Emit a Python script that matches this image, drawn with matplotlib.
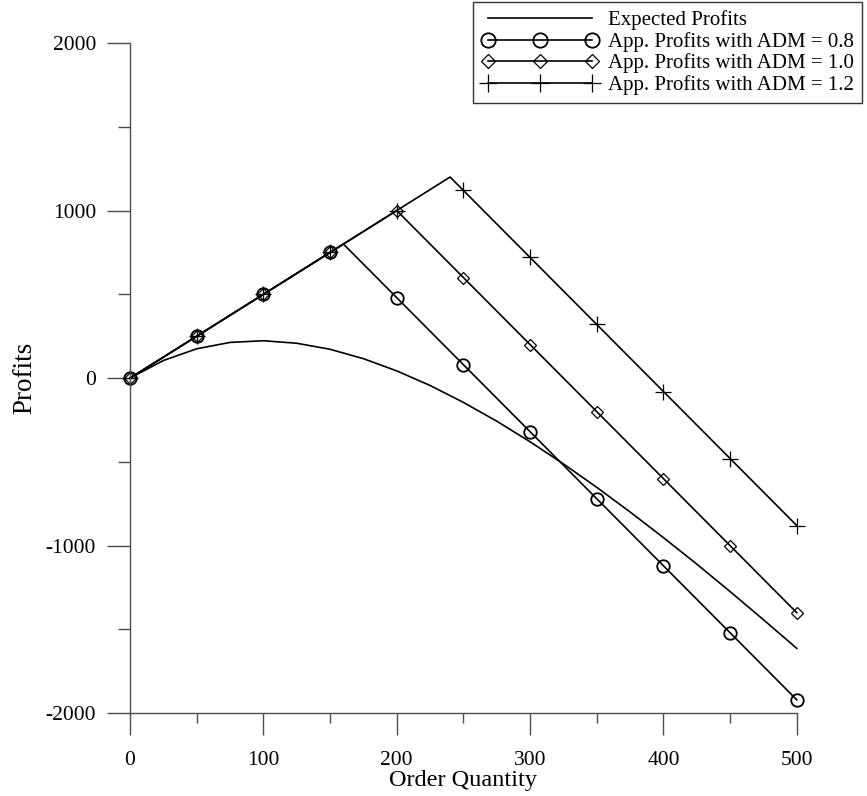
import matplotlib.pyplot as plt
from matplotlib.ticker import MultipleLocator

plt.rcParams['font.family'] = ['Liberation Serif', 'DejaVu Serif']
plt.rcParams['axes.unicode_minus'] = False

# expected profits, every 25 units
q_exp = [0, 25, 50, 75, 100, 125, 150, 175, 200, 225, 250,
         275, 300, 325, 350, 375, 400, 425, 450, 475, 500]
profit_exp = [0, 105, 175, 213, 223, 208, 172, 116, 43, -44, -145,
              -257, -380, -512, -652, -799, -952, -1110, -1274, -1442, -1613]

# approximated profits (kink point included, marker only every 50)
q_08 = [0, 50, 100, 150, 160, 200, 250, 300, 350, 400, 450, 500]
profit_08 = [0, 250, 500, 750, 800, 480, 80, -320, -720, -1120, -1520, -1920]
mark_08 = [0, 1, 2, 3, 5, 6, 7, 8, 9, 10, 11]

q_10 = [0, 50, 100, 150, 200, 250, 300, 350, 400, 450, 500]
profit_10 = [0, 250, 500, 750, 1000, 600, 200, -200, -600, -1000, -1400]

q_12 = [0, 50, 100, 150, 200, 240, 250, 300, 350, 400, 450, 500]
profit_12 = [0, 250, 500, 750, 1000, 1200, 1120, 720, 320, -80, -480, -880]
mark_12 = [0, 1, 2, 3, 4, 6, 7, 8, 9, 10, 11]

fig = plt.figure(figsize=(8.67, 7.96), dpi=100)
ax = fig.add_axes([0.15, 0.104, 0.769, 0.842])

ax.plot(q_exp, profit_exp, color='black', lw=1.2, label='Expected Profits',
        clip_on=False)
ax.plot(q_08, profit_08, color='black', lw=1.2, marker='o', ms=9, mfc='none',
        mew=1.3, markevery=mark_08, label='App. Profits with ADM = 0.8', clip_on=False)
ax.plot(q_10, profit_10, color='black', lw=1.2, marker='D', ms=6.5, mfc='none',
        mew=0.9, label='App. Profits with ADM = 1.0', clip_on=False)
ax.plot(q_12, profit_12, color='black', lw=1.2, marker='+', ms=11,
        mew=0.9, markevery=mark_12, label='App. Profits with ADM = 1.2', clip_on=False)

ax.set_xlim(0, 500)
ax.set_ylim(-2000, 2000)
ax.xaxis.set_major_locator(MultipleLocator(100))
ax.xaxis.set_minor_locator(MultipleLocator(50))
ax.yaxis.set_major_locator(MultipleLocator(1000))
ax.yaxis.set_minor_locator(MultipleLocator(500))

for s in ['top', 'right']:
    ax.spines[s].set_visible(False)
for s in ['left', 'bottom']:
    ax.spines[s].set_color('0.3')
    ax.spines[s].set_linewidth(1.0)

ax.tick_params(axis='y', which='major', direction='out', length=16.5, width=1,
               color='0.3', pad=8, labelsize=15.5)
ax.tick_params(axis='y', which='minor', direction='out', length=8.5, width=1, color='0.3')
ax.tick_params(axis='x', which='major', direction='out', length=16, width=1,
               color='0.3', pad=11, labelsize=15.5)
ax.tick_params(axis='x', which='minor', direction='out', length=7.5, width=1, color='0.3')

ax.set_xlabel('Order Quantity', fontsize=17.5, labelpad=0)
ax.set_ylabel('Profits', fontsize=19.5, labelpad=6)

leg = ax.legend(loc='upper right', bbox_to_anchor=(862 / 867, 1 - 2 / 796),
                bbox_transform=fig.transFigure, fontsize=15, numpoints=3,
                handlelength=5.6, handletextpad=0.45, labelspacing=0.08,
                borderpad=0.4, borderaxespad=0, markerscale=1.15,
                fancybox=False, frameon=True)
leg.get_frame().set_edgecolor('black')
leg.get_frame().set_linewidth(1.0)

fig.savefig('out.png', dpi=100)
